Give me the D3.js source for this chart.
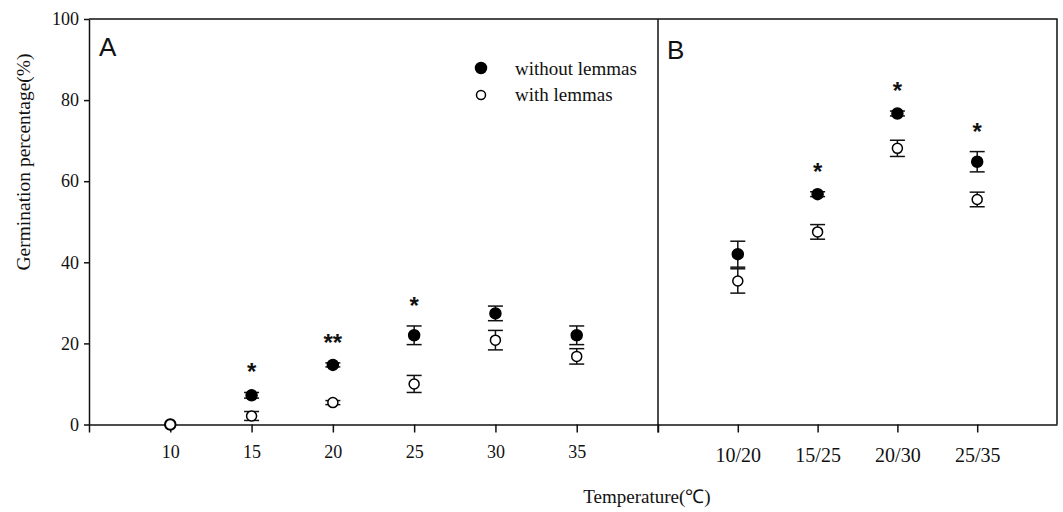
<!DOCTYPE html>
<html>
<head>
<meta charset="utf-8">
<script src="https://cdn.jsdelivr.net/npm/d3@7"></script>
<style>
  html, body { margin: 0; padding: 0; background: #fff; }
  svg { display: block; }
</style>
</head>
<body>
<div id="chart"></div>
<script>
// ---- data ----
const tempsA = [10, 15, 20, 25, 30, 35];
const withoutA = [0, 7.2, 14.7, 22.0, 27.4, 22.0];
const withoutErrA = [0, 0.7, 0.5, 2.3, 1.8, 2.3];
const withA = [0, 2.1, 5.4, 10.0, 20.8, 16.8];
const withErrA = [0, 1.1, 0.5, 2.1, 2.4, 1.9];
const sigA = ['', '*', '**', '*', '', ''];

const tempsB = ['10/20', '15/25', '20/30', '25/35'];
const withoutB = [42.0, 56.8, 76.7, 64.8];
const withoutErrB = [3.2, 0.6, 0.6, 2.5];
const withB = [35.4, 47.5, 68.1, 55.5];
const withErrB = [3.0, 1.8, 2.0, 1.8];
const sigB = ['', '*', '*', '*'];

const yTicks = [0, 20, 40, 60, 80, 100];

// ---- layout ----
const width = 1063, height = 512;
const plotLeft = 89, plotTop = 19, plotBottom = 424.5, split = 658, plotRight = 1057;

const svg = d3.select('#chart')
    .append('svg')
    .attr('width', width)
    .attr('height', height);

const y = d3.scaleLinear().domain([0, 100]).range([plotBottom, plotTop]);
const xA = d3.scaleLinear().domain([5, 40]).range([plotLeft, split]);
const xB = d3.scalePoint().domain(tempsB).range([split, plotRight]).padding(1);

const serif = '"Liberation Serif", "Times New Roman", serif';
const sans = '"Liberation Sans", Arial, sans-serif';

// frame: top and right borders, panel divider
const frame = svg.append('g')
    .attr('stroke', '#111')
    .attr('stroke-width', 1.5)
    .attr('fill', 'none');
frame.append('path')
    .attr('d', `M${plotLeft},${plotTop}H${plotRight}V${plotBottom}`);
frame.append('line')
    .attr('x1', split).attr('x2', split)
    .attr('y1', plotTop).attr('y2', plotBottom + 8);

// y axis
const yAxis = svg.append('g')
    .attr('transform', `translate(${plotLeft},0)`)
    .call(d3.axisLeft(y).tickValues(yTicks).tickSize(5).tickSizeOuter(0).tickPadding(5));

// x axis, panel A
const xAxisA = svg.append('g')
    .attr('transform', `translate(0,${plotBottom})`)
    .call(d3.axisBottom(xA)
        .tickValues([5].concat(tempsA, [40]))
        .tickFormat(d => (d === 5 || d === 40) ? '' : d)
        .tickSize(8).tickSizeOuter(0).tickPadding(13));

// x axis, panel B
const xAxisB = svg.append('g')
    .attr('transform', `translate(0,${plotBottom})`)
    .call(d3.axisBottom(xB).tickSize(8).tickSizeOuter(0).tickPadding(15));

[yAxis, xAxisA, xAxisB].forEach(g => {
  g.selectAll('path, line').attr('stroke', '#111').attr('stroke-width', 1.5);
  g.selectAll('text').attr('fill', '#111').attr('font-family', serif);
});
yAxis.selectAll('text').attr('font-size', 18);
xAxisA.selectAll('text').attr('font-size', 18);
xAxisB.selectAll('text').attr('font-size', 20);

// axis titles
svg.append('text')
    .attr('x', 647).attr('y', 503)
    .attr('text-anchor', 'middle')
    .attr('font-family', serif).attr('font-size', 19)
    .attr('fill', '#111')
    .text('Temperature(℃)');

svg.append('text')
    .attr('transform', 'translate(30,162) rotate(-90)')
    .attr('text-anchor', 'middle')
    .attr('font-family', serif).attr('font-size', 19.5)
    .attr('fill', '#111')
    .text('Germination percentage(%)');

// panel labels
svg.append('text')
    .attr('x', 99).attr('y', 56)
    .attr('font-family', sans).attr('font-size', 26)
    .attr('fill', '#111').text('A');
svg.append('text')
    .attr('x', 667).attr('y', 59)
    .attr('font-family', sans).attr('font-size', 26)
    .attr('fill', '#111').text('B');

/**
 * draw one series: error bars then markers
 */
function drawSeries(xs, xScale, vals, errs, filled) {
  const g = svg.append('g');
  const pts = xs.map((k, i) => ({ x: xScale(k), v: vals[i], e: errs[i] }));
  const bars = g.selectAll('g.err')
      .data(pts.filter(d => d.e > 0))
      .enter().append('g')
      .attr('stroke', '#111').attr('stroke-width', 1.5);
  bars.append('line')
      .attr('x1', d => d.x).attr('x2', d => d.x)
      .attr('y1', d => y(d.v + d.e)).attr('y2', d => y(d.v - d.e));
  bars.append('line')
      .attr('x1', d => d.x - 7.5).attr('x2', d => d.x + 7.5)
      .attr('y1', d => y(d.v + d.e)).attr('y2', d => y(d.v + d.e));
  bars.append('line')
      .attr('x1', d => d.x - 7.5).attr('x2', d => d.x + 7.5)
      .attr('y1', d => y(d.v - d.e)).attr('y2', d => y(d.v - d.e));
  g.selectAll('circle')
      .data(pts)
      .enter().append('circle')
      .attr('cx', d => d.x).attr('cy', d => y(d.v))
      .attr('r', filled ? 5.5 : 5)
      .attr('fill', filled ? '#000' : '#fff')
      .attr('stroke', '#000').attr('stroke-width', 1.5);
}

function drawSig(xs, xScale, vals, errs, marks) {
  svg.append('g').selectAll('text')
      .data(xs.map((k, i) => ({ x: xScale(k), top: vals[i] + errs[i], m: marks[i] })))
      .enter().append('text')
      .attr('x', d => d.x).attr('y', d => y(d.top) - 12)
      .attr('text-anchor', 'middle')
      .attr('font-family', sans).attr('font-size', 24).attr('font-weight', 'bold')
      .attr('fill', '#111')
      .text(d => d.m);
}

drawSeries(tempsA, xA, withoutA, withoutErrA, true);
drawSeries(tempsA, xA, withA, withErrA, false);
drawSeries(tempsB, xB, withoutB, withoutErrB, true);
drawSeries(tempsB, xB, withB, withErrB, false);
drawSig(tempsA, xA, withoutA, withoutErrA, sigA);
drawSig(tempsB, xB, withoutB, withoutErrB, sigB);

// legend
const legend = svg.append('g');
legend.append('circle').attr('cx', 481).attr('cy', 68)
    .attr('r', 5.5).attr('fill', '#000').attr('stroke', '#000').attr('stroke-width', 1.5);
legend.append('circle').attr('cx', 481).attr('cy', 95)
    .attr('r', 4.5).attr('fill', '#fff').attr('stroke', '#000').attr('stroke-width', 1.5);
legend.append('text').attr('x', 515).attr('y', 75)
    .attr('font-family', serif).attr('font-size', 19).attr('fill', '#111')
    .text('without lemmas');
legend.append('text').attr('x', 515).attr('y', 101)
    .attr('font-family', serif).attr('font-size', 19).attr('fill', '#111')
    .text('with lemmas');
</script>
</body>
</html>
